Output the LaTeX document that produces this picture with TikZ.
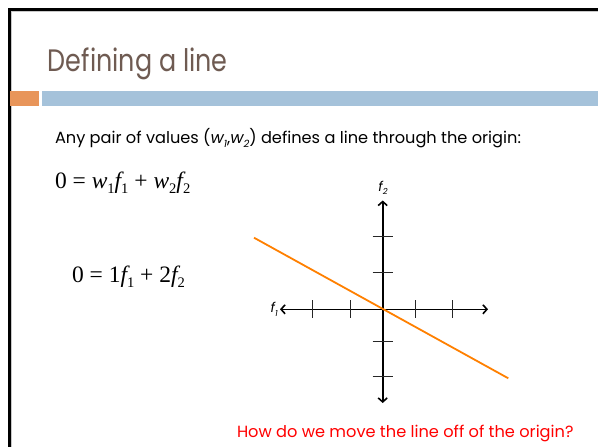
\documentclass[tikz,border=0pt]{standalone}
\usepackage{fontspec}
\usetikzlibrary{arrows.meta}
\newfontfamily\twfont{Poppins}
\newfontfamily\titlefont[FakeStretch=0.82]{Poppins}
\newfontfamily\tmsfont{Liberation Serif}
\definecolor{titlecol}{HTML}{6F5B52}
\definecolor{barorange}{HTML}{E8955A}
\definecolor{barblue}{HTML}{A5C2DA}
\definecolor{lineorange}{HTML}{FF8000}
\definecolor{framegrey}{HTML}{C8C8C8}
\newcommand{\lowsub}[1]{\raisebox{-0.25em}{\scalebox{0.62}{#1}}}
\tikzset{
  txt/.style={anchor=base west, inner sep=0pt, outer sep=0pt},
  axis/.style={line width=1.6pt, {Straight Barb[length=4pt,width=9pt]}-{Straight Barb[length=4pt,width=9pt]}},
  tick/.style={line width=1pt, draw=black!85},
  axlabel/.style={inner sep=0pt, font=\twfont\itshape\fontsize{13.5}{15}\selectfont}
}
\begin{document}
\begin{tikzpicture}[x=1pt,y=-1pt]
\useasboundingbox[fill=white] (0,0) rectangle (598,447);
% frame
\draw[framegrey, line width=1pt] (11.5,447) -- (11.5,11.5) -- (598,11.5);
\draw[black, line width=3pt] (9,447) -- (9,9) -- (598,9);
% title and bars
\node[txt, text=titlecol, font=\titlefont\fontsize{31}{36}\selectfont] (title) at (48,71) {Defining a line};
\fill[barorange] (10,91) rectangle (39,106);
\fill[barblue] (42,91) rectangle (598,106);
% subtitle
\node[txt, font=\twfont\fontsize{16.2}{19}\selectfont] (sub) at (55,143) {Any pair of values ({\itshape w\lowsub{1}},{\itshape w\lowsub{2}}) defines a line through the origin:};
% equations
\node[txt, font=\tmsfont\fontsize{23.5}{26}\selectfont] (eq1) at (55,188) {0 = {\itshape w}\lowsub{1}{\itshape f}\lowsub{1} + {\itshape w}\lowsub{2}{\itshape f}\lowsub{2}};
\node[txt, font=\tmsfont\fontsize{23.5}{26}\selectfont] (eq2) at (72,282) {0 = 1{\itshape f}\lowsub{1} + 2{\itshape f}\lowsub{2}};
% axes
\coordinate (O) at (382.7,309.3);
\coordinate (xl) at (280,309.3);
\coordinate (xr) at (488,309.3);
\coordinate (yt) at (382.7,200.5);
\coordinate (yb) at (382.7,403);
\draw[axis] (xl) -- (xr);
\draw[axis] (yb) -- (yt);
\foreach \x in {312.3,350,415,452.7} \draw[tick] (\x,300.3) -- (\x,318.3);
\foreach \y in {236.7,272.7,341,376.7} \draw[tick] (372.7,\y) -- (392.7,\y);
\node[axlabel, anchor=east] (f1) at (278,309.3) {f\lowsub{1}};
\node[axlabel] (f2) at (383,188) {f\lowsub{2}};
% line
\coordinate (la) at (254,237.7);
\coordinate (lb) at (508.3,378.3);
\draw[lineorange, line width=1.8pt] (la) -- (lb);
% question
\node[txt, text=red, font=\twfont\fontsize{16.2}{19}\selectfont] (q) at (237,437) {How do we move the line off of the origin?};
\end{tikzpicture}
\end{document}
